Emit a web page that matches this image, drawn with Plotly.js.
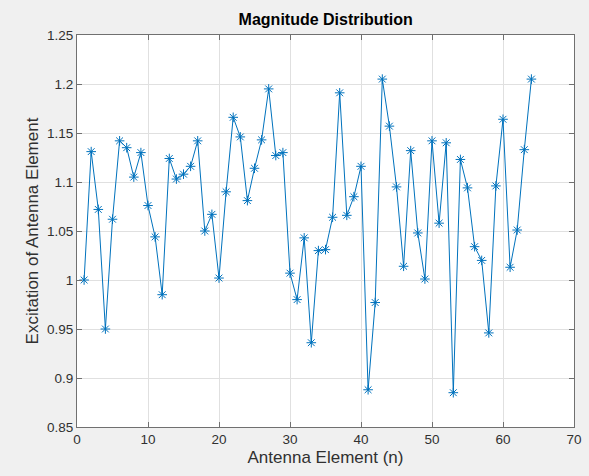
<!DOCTYPE html>
<html>
<head>
<meta charset="utf-8">
<script src="https://cdn.plot.ly/plotly-3.0.1.min.js"></script>
<style>html,body{margin:0;padding:0;background:#f0f0f0;}#chart{width:589px;height:476px;}</style>
</head>
<body>
<div id="chart"></div>
<script>
const elements = Array.from({length: 64}, (_, i) => i + 1);
const excitation = [
  1.000, 1.131, 1.072, 0.950, 1.062, 1.142, 1.135, 1.105, 1.130, 1.076,
  1.044, 0.985, 1.124, 1.103, 1.108, 1.116, 1.142, 1.050, 1.067, 1.002,
  1.090, 1.166, 1.146, 1.081, 1.114, 1.143, 1.195, 1.127, 1.130, 1.007,
  0.980, 1.043, 0.936, 1.030, 1.031, 1.064, 1.191, 1.066, 1.085, 1.116,
  0.888, 0.977, 1.205, 1.157, 1.095, 1.014, 1.132, 1.048, 1.001, 1.142,
  1.058, 1.140, 0.885, 1.123, 1.094, 1.034, 1.020, 0.946, 1.096, 1.164,
  1.013, 1.051, 1.133, 1.205
];
const xTicks = [0, 10, 20, 30, 40, 50, 60, 70];
const yTicks = [0.85, 0.9, 0.95, 1, 1.05, 1.1, 1.15, 1.2, 1.25];
const yTickText = ['0.85', '0.9', '0.95', '1', '1.05', '1.1', '1.15', '1.2', '1.25'];

const font = 'Liberation Sans, Arial, sans-serif';
const trace = {
  x: elements, y: excitation, type: 'scatter', mode: 'lines+markers',
  line: {color: '#0072BD', width: 1},
  marker: {symbol: 'asterisk-open', size: 8, color: '#0072BD', line: {color: '#0072BD', width: 1}}
};
const axisCommon = {
  showline: true, linecolor: '#707070', linewidth: 1, mirror: 'ticks',
  ticks: 'inside', ticklen: 5, tickcolor: '#707070',
  showgrid: true, gridcolor: '#e0e0e0', gridwidth: 1, zeroline: false,
  tickfont: {family: font, size: 13.5, color: '#303030'}
};
const layout = {
  width: 589, height: 476,
  paper_bgcolor: '#f0f0f0', plot_bgcolor: '#ffffff',
  margin: {l: 77, r: 15, t: 35, b: 49},
  showlegend: false,
  title: {text: '<b>Magnitude Distribution</b>', font: {family: font, size: 16, color: '#000000'}, x: 0.553, xanchor: 'center', y: 0.96, yanchor: 'middle'},
  xaxis: Object.assign({}, axisCommon, {
    range: [0, 70], tickvals: xTicks,
    title: {text: 'Antenna Element (n)', font: {family: font, size: 17, color: '#303030'}, standoff: 4}
  }),
  yaxis: Object.assign({}, axisCommon, {
    range: [0.85, 1.25], tickvals: yTicks, ticktext: yTickText,
    title: {text: 'Excitation of Antenna Element', font: {family: font, size: 17, color: '#303030'}, standoff: 4}
  })
};
Plotly.newPlot('chart', [trace], layout, {displayModeBar: false, staticPlot: true});
</script>
</body>
</html>
